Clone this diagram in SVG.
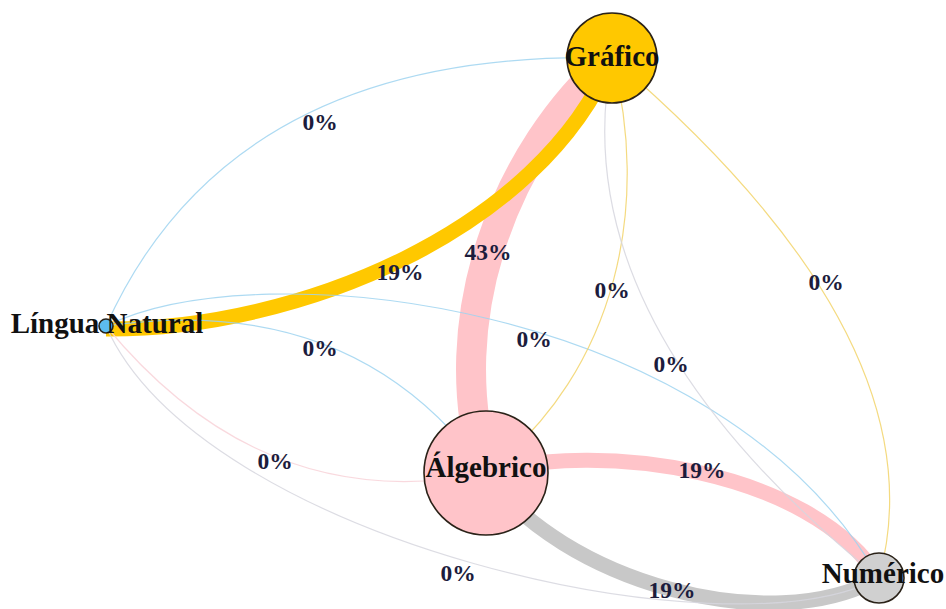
<svg xmlns="http://www.w3.org/2000/svg" width="946" height="609" viewBox="0 0 946 609">
<style>
  .e { fill: none; stroke-linecap: butt; }
  .thin { stroke-width: 1.2; stroke-opacity: 0.85; }
  .blue { stroke: #9fd4f0; }
  .yel { stroke: #f2d36a; }
  .pinkt { stroke: #f8d2d8; }
  .greyt { stroke: #d6d6de; }
  .node { stroke: #2a2218; stroke-width: 1.6; }
  .nlab { font-family: "Liberation Serif", "Times New Roman", serif; font-weight: bold; font-size: 29px; fill: #111111; text-anchor: middle; }
  .elab { font-family: "Liberation Serif", "Times New Roman", serif; font-weight: bold; font-size: 23.5px; fill: #1c1c3c; text-anchor: middle; }
</style>
<rect width="946" height="609" fill="#ffffff"/>
<g id="connectors">
  <!-- thick edges -->
  <path id="e-alg-graf" class="e" d="M486,473 C440,320 505,150 612,58" stroke="#ffc4c9" stroke-width="30"/>
  <path id="e-graf-ln" class="e" d="M612,58 C540,230 300,330 106,329" stroke="#ffc800" stroke-width="15"/>
  <path id="e-alg-num" class="e" d="M486,473 C600,440 810,470 879,578" stroke="#ffc4c9" stroke-width="15"/>
  <path id="e-num-alg" class="e" d="M486,473 C560,580 770,640 879,578" stroke="#c8c8c8" stroke-width="15"/>
  <!-- thin edges -->
  <path id="e-ln-graf" class="e thin blue" d="M106,326 Q231,48 612,58"/>
  <path id="e-ln-alg" class="e thin blue" d="M106,326 Q354,290 486,473"/>
  <path id="e-ln-num" class="e thin blue" d="M106,326 C260,250 720,300 879,578"/>
  <path id="e-graf-alg" class="e thin yel" d="M612,58 C650,200 620,370 486,473"/>
  <path id="e-graf-num" class="e thin yel" d="M612,58 Q944,342 879,578"/>
  <path id="e-alg-ln" class="e thin pinkt" d="M486,473 Q264,518 106,326"/>
  <path id="e-num-graf" class="e thin greyt" d="M879,578 Q560,320 612,58"/>
  <path id="e-num-ln" class="e thin greyt" d="M879,578 C730,660 200,540 106,326"/>
</g>
<g id="node-grafico">
  <circle class="node" cx="612" cy="58" r="45" fill="#ffc800"/>
  <text class="nlab" x="612" y="66">Gráfico</text>
</g>
<g id="node-lingua-natural">
  <circle class="node" cx="106" cy="326" r="7" fill="#5cbcf0"/>
  <text class="nlab" x="107" y="333">Língua Natural</text>
</g>
<g id="node-algebrico">
  <circle class="node" cx="486" cy="473" r="62" fill="#ffc4c9"/>
  <text class="nlab" x="486" y="477">Álgebrico</text>
</g>
<g id="node-numerico">
  <circle class="node" cx="879" cy="578" r="25" fill="#d0d0d0"/>
  <text class="nlab" x="883" y="583">Numérico</text>
</g>
<g id="edge-labels">
  <text class="elab" x="320" y="130">0%</text>
  <text class="elab" x="400" y="280">19%</text>
  <text class="elab" x="488" y="260">43%</text>
  <text class="elab" x="612" y="298">0%</text>
  <text class="elab" x="826" y="290">0%</text>
  <text class="elab" x="320" y="356">0%</text>
  <text class="elab" x="534" y="347">0%</text>
  <text class="elab" x="671" y="372">0%</text>
  <text class="elab" x="275" y="469">0%</text>
  <text class="elab" x="702" y="478">19%</text>
  <text class="elab" x="458" y="581">0%</text>
  <text class="elab" x="672" y="598">19%</text>
</g>
</svg>
